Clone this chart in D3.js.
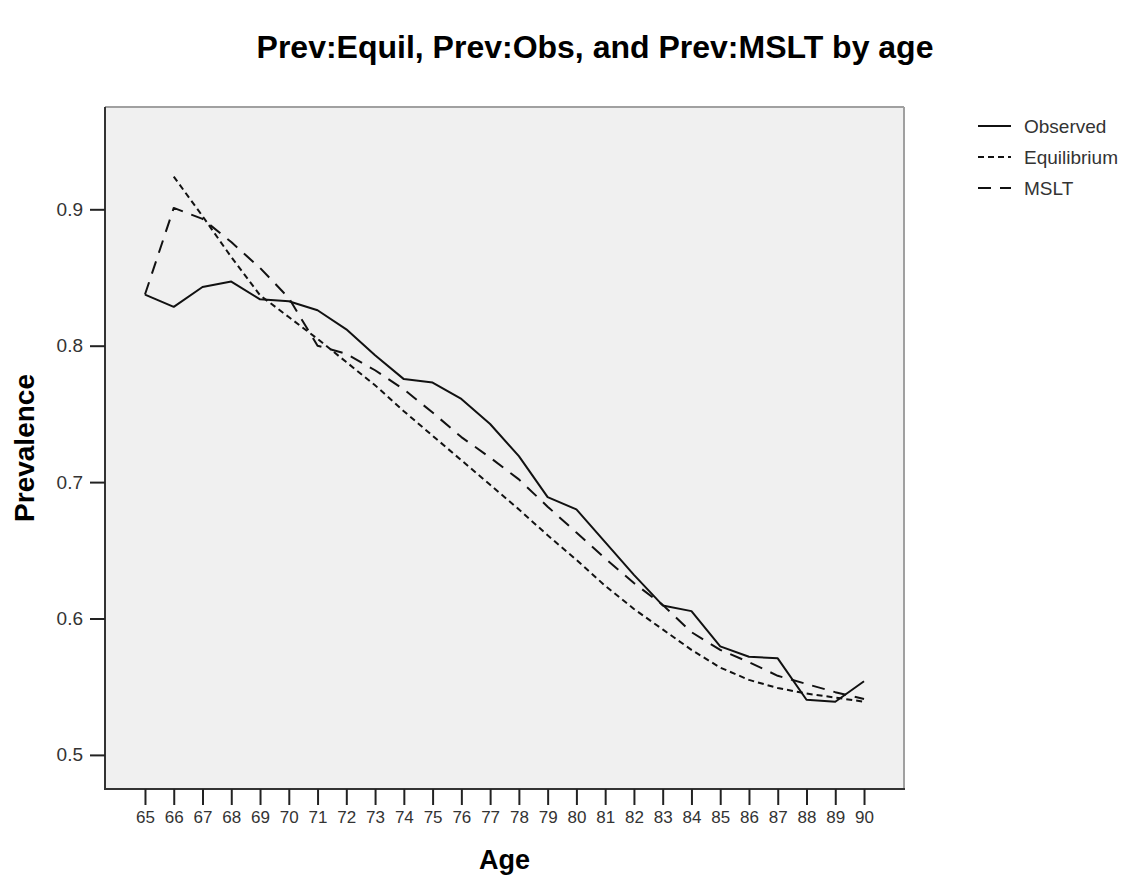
<!DOCTYPE html>
<html>
<head>
<meta charset="utf-8">
<script src="https://cdn.jsdelivr.net/npm/d3@7"></script>
<style>
  html, body { margin: 0; padding: 0; background: #ffffff; }
  svg { display: block; font-family: "Liberation Sans", Arial, sans-serif; }
</style>
</head>
<body>
<svg id="chart" width="1129" height="884"></svg>
<script>
// ---- data ----
const ages = [65,66,67,68,69,70,71,72,73,74,75,76,77,78,79,80,81,82,83,84,85,86,87,88,89,90];
const observed = [0.8375,0.8285,0.843,0.847,0.834,0.8326,0.826,0.812,0.793,0.7755,0.773,0.761,0.7426,0.719,0.689,0.680,0.656,0.632,0.6096,0.6054,0.5796,0.572,0.5708,0.5404,0.539,0.554];
const equilibrium = [null,0.924,0.895,0.865,0.837,0.821,0.805,0.788,0.771,0.752,0.734,0.716,0.698,0.680,0.661,0.643,0.624,0.607,0.592,0.577,0.564,0.555,0.549,0.545,0.542,0.539];
const mslt = [0.8375,0.901,0.893,0.876,0.857,0.835,0.800,0.794,0.782,0.768,0.751,0.733,0.718,0.702,0.682,0.663,0.644,0.626,0.610,0.590,0.577,0.568,0.558,0.552,0.546,0.541];
const yTicks = [0.5,0.6,0.7,0.8,0.9];
const seriesNames = ["Observed","Equilibrium","MSLT"];

// ---- layout ----
const L = 105, R = 904, T = 107, B = 789;
const svg = d3.select("#chart");

const x = d3.scalePoint().domain(ages).range([L, R]).padding(1.39);
const y = d3.scaleLinear().domain([0.475, 0.975]).range([B, T]);

const dashes = { "Observed": null, "Equilibrium": "6,4", "MSLT": "13,9" };
const seriesData = {
  "Observed": observed,
  "Equilibrium": equilibrium,
  "MSLT": mslt
};

// title
svg.append("text")
  .attr("x", 595).attr("y", 58)
  .attr("text-anchor", "middle")
  .attr("font-size", 32).attr("font-weight", "bold")
  .attr("fill", "#000")
  .text("Prev:Equil, Prev:Obs, and Prev:MSLT by age");

// plot background
svg.append("rect")
  .attr("x", L).attr("y", T).attr("width", R - L).attr("height", B - T)
  .attr("fill", "#f0f0f0");

// lines
const line = d3.line()
  .defined(d => d.v !== null)
  .x(d => x(d.a)).y(d => y(d.v));

seriesNames.forEach(name => {
  const vals = seriesData[name];
  const pts = ages.map((a, i) => ({ a: a, v: vals[i] }));
  svg.append("path")
    .datum(pts)
    .attr("d", line)
    .attr("fill", "none")
    .attr("stroke", "#111")
    .attr("stroke-width", 2)
    .attr("stroke-linejoin", "round")
    .attr("stroke-dasharray", dashes[name]);
});

// frame
svg.append("line").attr("x1", L).attr("x2", R).attr("y1", T).attr("y2", T)
  .attr("stroke", "#a0a0a0").attr("stroke-width", 2);
svg.append("line").attr("x1", R).attr("x2", R).attr("y1", T).attr("y2", B)
  .attr("stroke", "#a0a0a0").attr("stroke-width", 2);
svg.append("line").attr("x1", L).attr("x2", L).attr("y1", T).attr("y2", B + 1)
  .attr("stroke", "#333").attr("stroke-width", 2);
svg.append("line").attr("x1", L - 1).attr("x2", R + 1).attr("y1", B).attr("y2", B)
  .attr("stroke", "#333").attr("stroke-width", 2);

// x axis
const gx = svg.append("g").attr("transform", `translate(0,${B})`)
  .call(d3.axisBottom(x).tickSize(16).tickSizeOuter(0).tickPadding(6));
gx.select(".domain").remove();
gx.selectAll(".tick line").attr("stroke", "#222").attr("stroke-width", 2);
gx.selectAll(".tick text")
  .attr("font-size", 17).attr("fill", "#333")
  .attr("font-family", "'Liberation Sans Narrow', 'Liberation Sans', Arial, sans-serif");

// y axis
const gy = svg.append("g").attr("transform", `translate(${L},0)`)
  .call(d3.axisLeft(y).tickValues(yTicks).tickFormat(d3.format(".1f")).tickSize(15).tickSizeOuter(0).tickPadding(7));
gy.select(".domain").remove();
gy.selectAll(".tick line").attr("stroke", "#222").attr("stroke-width", 2);
gy.selectAll(".tick text").attr("font-size", 19).attr("fill", "#333")
  .attr("font-family", "'Liberation Sans', Arial, sans-serif");

// axis titles
svg.append("text")
  .attr("x", (L + R) / 2).attr("y", 869)
  .attr("text-anchor", "middle")
  .attr("font-size", 27).attr("font-weight", "bold")
  .text("Age");
svg.append("text")
  .attr("transform", `translate(34,${(T + B) / 2}) rotate(-90)`)
  .attr("text-anchor", "middle")
  .attr("font-size", 28).attr("font-weight", "bold")
  .text("Prevalence");

// legend
const lg = svg.append("g");
seriesNames.forEach((name, i) => {
  const cy = 126 + i * 31;
  lg.append("line")
    .attr("x1", 978).attr("x2", 1011).attr("y1", cy).attr("y2", cy)
    .attr("stroke", "#111").attr("stroke-width", 2)
    .attr("stroke-dasharray", dashes[name]);
  lg.append("text")
    .attr("x", 1024).attr("y", cy).attr("dy", "0.35em")
    .attr("font-size", 19).attr("fill", "#333")
    .text(name);
});
</script>
</body>
</html>
